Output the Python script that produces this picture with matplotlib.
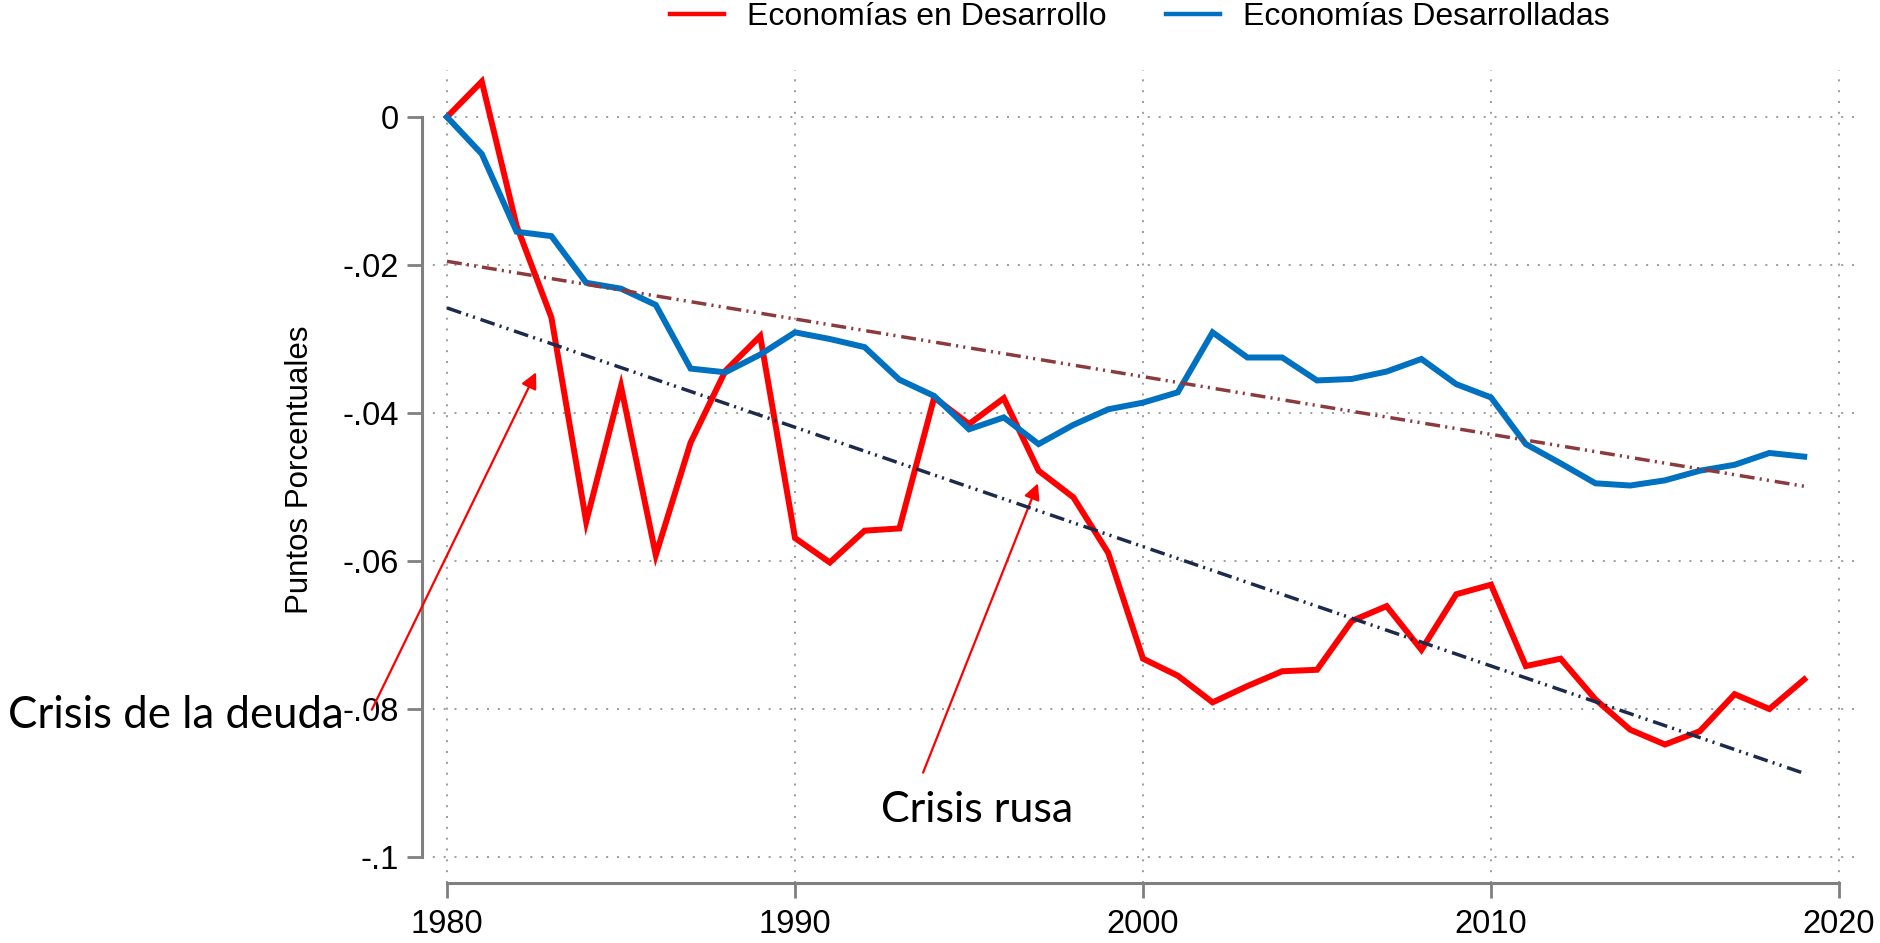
import matplotlib
matplotlib.use("Agg")
import matplotlib.pyplot as plt
from matplotlib.lines import Line2D

plt.rcParams['font.family'] = ['Liberation Sans', 'DejaVu Sans']

years = list(range(1980, 2020))
desarrollo = [0.0, 0.0048, -0.0147, -0.0271, -0.0547, -0.0364, -0.0592, -0.0440, -0.0343, -0.0296,
              -0.0569, -0.0602, -0.0559, -0.0556, -0.0379, -0.0415, -0.0380, -0.0478, -0.0514, -0.0589,
              -0.0732, -0.0755, -0.0791, -0.0769, -0.0749, -0.0747, -0.0681, -0.0661, -0.0720, -0.0645,
              -0.0632, -0.0742, -0.0732, -0.0787, -0.0828, -0.0848, -0.0830, -0.0780, -0.0800, -0.0760]
desarrolladas = [0.0, -0.0050, -0.0155, -0.0161, -0.0224, -0.0232, -0.0254, -0.0340, -0.0345, -0.0321,
                 -0.0291, -0.0300, -0.0311, -0.0355, -0.0377, -0.0422, -0.0406, -0.0442, -0.0416, -0.0395,
                 -0.0386, -0.0372, -0.0291, -0.0325, -0.0325, -0.0356, -0.0354, -0.0344, -0.0327, -0.0361,
                 -0.0379, -0.0442, -0.0468, -0.0495, -0.0498, -0.0491, -0.0478, -0.0470, -0.0454, -0.0459]
trend_years = [1980, 2019]
trend_desarrollo = [-0.0258, -0.0887]
trend_desarrolladas = [-0.0195, -0.0499]

xticks = [1980, 1990, 2000, 2010, 2020]
yticks = [0, -0.02, -0.04, -0.06, -0.08, -0.1]
ytick_labels = ["0", "-.02", "-.04", "-.06", "-.08", "-.1"]

label_dev = "Economías en Desarrollo"
label_adv = "Economías Desarrolladas"
ylabel = "Puntos Porcentuales"

RED = "#ff0000"
BLUE = "#0070c0"
BROWN = "#8b3a3e"
NAVY = "#1c2a4c"
GRAY = "#808080"

W, H = 1880, 943
fig = plt.figure(figsize=(W / 100, H / 100), dpi=100)
L, R, T, B = 422, 1860, 70, 883
ax = fig.add_axes([L / W, (H - B) / H, (R - L) / W, (B - T) / H])

# pixel mapping: x = 447 + (year-1980)*34.8 ; y = 117 - v*7400
ax.set_xlim(1980 + (L - 447) / 34.8, 1980 + (R - 447) / 34.8)
ax.set_ylim(-(B - 117) / 7400, (117 - T) / 7400)

ax.plot(years, desarrollo, color=RED, lw=4.3, solid_joinstyle='miter', zorder=3)
ax.plot(years, desarrolladas, color=BLUE, lw=4.3, solid_joinstyle='miter', zorder=3)
dash = (0, (4.3, 1.5, 0.6, 1.5, 0.6, 1.7))
ax.plot(trend_years, trend_desarrollo, color=NAVY, lw=2.5, linestyle=dash, zorder=4)
ax.plot(trend_years, trend_desarrolladas, color=BROWN, lw=2.5, linestyle=dash, zorder=4)

ax.set_xticks(xticks)
ax.set_xticklabels([str(x) for x in xticks])
ax.set_yticks(yticks)
ax.set_yticklabels(ytick_labels)
ax.tick_params(axis='both', direction='out', length=10.8, width=2.0, color=GRAY,
               labelsize=23.5, labelcolor='black')
ax.tick_params(axis='y', pad=6)
ax.tick_params(axis='x', pad=8)

ax.grid(True, color='#8c8c8c', linestyle=(0, (1.2, 5.3)), linewidth=1.2)
ax.set_axisbelow(True)

for s in ['top', 'right']:
    ax.spines[s].set_visible(False)
ax.spines['left'].set_bounds(-0.1, 0)
ax.spines['bottom'].set_bounds(1980, 2020)
for s in ['left', 'bottom']:
    ax.spines[s].set_color(GRAY)
    ax.spines[s].set_linewidth(2.2)

fig.text(300 / W, 1 - 470 / H, ylabel, rotation=90, ha='center', va='center', fontsize=22.5)

handles = [Line2D([], [], color=RED, lw=3.2), Line2D([], [], color=BLUE, lw=3.2)]
fig.legend(handles, [label_dev, label_adv], loc='center', bbox_to_anchor=(1140 / W, 1 - 17 / H),
           ncol=2, frameon=False, fontsize=23, handlelength=1.7, handletextpad=0.72,
           columnspacing=1.85, borderpad=0, borderaxespad=0)

arrow = dict(arrowstyle='-|>', color=RED, lw=1.6, mutation_scale=24, shrinkA=0, shrinkB=0)
ax.annotate("", xy=(1982.56, -0.0345), xytext=(1977.84, -0.0801), arrowprops=arrow,
            annotation_clip=False)
ax.annotate("", xy=(1996.98, -0.0495), xytext=(1993.68, -0.0886), arrowprops=arrow,
            annotation_clip=False)
ax.text(1977.04, -0.08257, "Crisis de la deuda", ha='right', va='baseline', fontsize=31.5,
        family=['Lato', 'DejaVu Sans'], clip_on=False)
ax.text(1995.23, -0.09527, "Crisis rusa", ha='center', va='baseline', fontsize=31,
        family=['Lato', 'DejaVu Sans'], clip_on=False)

fig.savefig("out.png", dpi=100)
